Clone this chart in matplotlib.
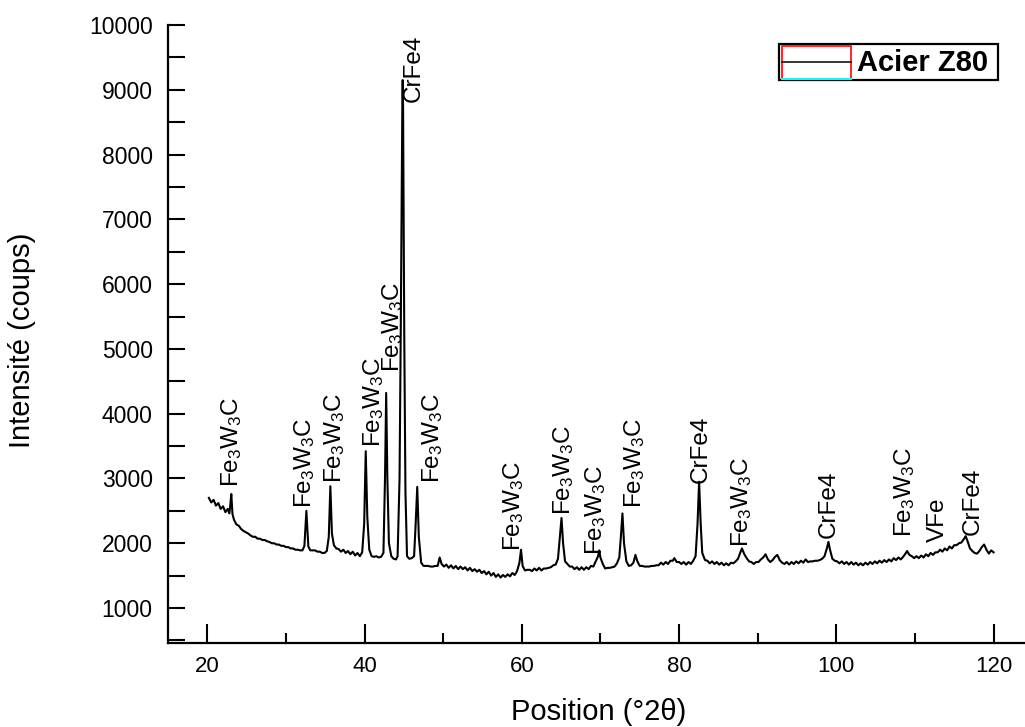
import matplotlib
matplotlib.use("Agg")
import matplotlib.pyplot as plt
from matplotlib.patches import Rectangle
from matplotlib.lines import Line2D
from matplotlib.ticker import MultipleLocator

plt.rcParams['font.family'] = ['Liberation Sans', 'DejaVu Sans']
plt.rcParams['mathtext.default'] = 'regular'

# Diffraction pattern of the Z80 steel: angle (°2θ) and intensity (counts)
two_theta = [
    20.2, 20.5, 20.8, 21.1, 21.4, 21.7, 22.0, 22.3, 22.6, 22.8,
    22.9, 23.05, 23.2, 23.4, 23.7, 24.0, 24.3, 24.6, 24.9, 25.2,
    25.5, 25.8, 26.1, 26.4, 26.7, 27.0, 27.3, 27.6, 27.9, 28.2,
    28.5, 28.8, 29.1, 29.4, 29.7, 30.0, 30.3, 30.6, 30.9, 31.2,
    31.5, 31.8, 32.1, 32.35, 32.6, 32.85, 33.1, 33.4, 33.7, 34.0,
    34.3, 34.6, 34.9, 35.2, 35.45, 35.65, 35.85, 36.1, 36.4, 36.7,
    37.0, 37.3, 37.6, 37.9, 38.2, 38.5, 38.8, 39.1, 39.4, 39.7,
    39.95, 40.15, 40.35, 40.6, 40.9, 41.2, 41.5, 41.8, 42.1, 42.4,
    42.6, 42.75, 42.9, 43.1, 43.4, 43.7, 44.0, 44.2, 44.45, 44.6,
    44.8, 44.85, 44.9, 45.05, 45.2, 45.4, 45.7, 46.0, 46.3, 46.5,
    46.7, 46.9, 47.2, 47.5, 47.8, 48.1, 48.4, 48.7, 49.0, 49.3,
    49.55, 49.8, 50.1, 50.4, 50.7, 51.0, 51.3, 51.6, 51.9, 52.2,
    52.5, 52.8, 53.1, 53.4, 53.7, 54.0, 54.3, 54.6, 54.9, 55.2,
    55.5, 55.8, 56.1, 56.4, 56.7, 57.0, 57.3, 57.6, 57.9, 58.2,
    58.5, 58.8, 59.1, 59.4, 59.7, 59.9, 60.1, 60.4, 60.7, 61.0,
    61.3, 61.6, 61.9, 62.2, 62.5, 62.8, 63.1, 63.4, 63.7, 64.0,
    64.3, 64.6, 64.85, 65.05, 65.25, 65.5, 65.8, 66.1, 66.4, 66.7,
    67.0, 67.3, 67.6, 67.9, 68.2, 68.5, 68.8, 69.1, 69.4, 69.7,
    69.85, 70.0, 70.3, 70.6, 70.9, 71.2, 71.5, 71.8, 72.1, 72.4,
    72.6, 72.8, 73.0, 73.3, 73.6, 73.9, 74.2, 74.45, 74.7, 75.0,
    75.3, 75.6, 75.9, 76.2, 76.5, 76.8, 77.1, 77.4, 77.7, 78.0,
    78.3, 78.6, 78.9, 79.2, 79.4, 79.7, 80.0, 80.3, 80.6, 80.9,
    81.2, 81.5, 81.8, 82.1, 82.35, 82.55, 82.75, 82.95, 83.3, 83.6,
    83.9, 84.2, 84.5, 84.8, 85.1, 85.4, 85.7, 86.0, 86.3, 86.6,
    86.9, 87.2, 87.5, 87.8, 88.0, 88.3, 88.6, 88.9, 89.2, 89.5,
    89.8, 90.1, 90.4, 90.7, 91.0, 91.3, 91.6, 91.9, 92.2, 92.5,
    92.8, 93.1, 93.4, 93.7, 94.0, 94.3, 94.6, 94.9, 95.2, 95.5,
    95.8, 96.1, 96.4, 96.7, 97.0, 97.3, 97.6, 97.9, 98.2, 98.5,
    98.8, 99.0, 99.2, 99.5, 99.8, 100.1, 100.4, 100.7, 101.0, 101.3,
    101.6, 101.9, 102.2, 102.5, 102.8, 103.1, 103.4, 103.7, 104.0, 104.3,
    104.6, 104.9, 105.2, 105.5, 105.8, 106.1, 106.4, 106.7, 107.0, 107.3,
    107.6, 107.9, 108.2, 108.5, 108.8, 109.0, 109.3, 109.6, 109.9, 110.2,
    110.5, 110.8, 111.1, 111.4, 111.7, 112.0, 112.3, 112.6, 112.9, 113.2,
    113.5, 113.8, 114.1, 114.4, 114.7, 115.0, 115.3, 115.6, 115.9, 116.2,
    116.45, 116.7, 117.0, 117.3, 117.6, 117.9, 118.2, 118.5, 118.8, 119.1,
    119.4, 119.7, 120.0,
]
counts = [
    2700, 2630, 2670, 2580, 2620, 2530, 2570, 2480, 2530, 2460,
    2560, 2760, 2450, 2360, 2290, 2270, 2220, 2190, 2170, 2150,
    2120, 2100, 2100, 2070, 2070, 2050, 2050, 2030, 2020, 2000,
    2000, 1980, 1980, 1960, 1960, 1940, 1940, 1920, 1920, 1900,
    1900, 1890, 1890, 1960, 2500, 1950, 1890, 1890, 1890, 1870,
    1870, 1850, 1850, 1880, 2100, 2880, 2150, 1970, 1920, 1910,
    1870, 1900, 1850, 1880, 1830, 1870, 1810, 1850, 1800, 1860,
    2300, 3420, 2400, 1900, 1800, 1790, 1800, 1780, 1790, 1850,
    3000, 4320, 3000, 2000, 1800, 1760, 1750, 1800, 3000, 5200,
    8700, 9150, 8700, 5200, 2800, 1800, 1760, 1770, 1800, 2300,
    2870, 2100, 1700, 1650, 1650, 1650, 1640, 1640, 1650, 1650,
    1780, 1680, 1640, 1670, 1620, 1660, 1610, 1650, 1600, 1640,
    1600, 1630, 1580, 1620, 1570, 1600, 1560, 1590, 1540, 1570,
    1520, 1560, 1500, 1540, 1480, 1520, 1470, 1510, 1480, 1520,
    1490, 1540, 1510, 1570, 1700, 1900, 1650, 1580, 1590, 1590,
    1570, 1610, 1580, 1620, 1580, 1610, 1610, 1620, 1630, 1660,
    1670, 1760, 2100, 2390, 2000, 1720, 1680, 1640, 1640, 1600,
    1630, 1590, 1630, 1590, 1630, 1600, 1650, 1640, 1720, 1800,
    1890, 1780, 1680, 1610, 1620, 1620, 1630, 1640, 1690, 1780,
    2100, 2460, 2000, 1720, 1650, 1660, 1700, 1820, 1720, 1650,
    1650, 1640, 1640, 1640, 1650, 1650, 1660, 1660, 1700, 1670,
    1710, 1680, 1730, 1730, 1770, 1710, 1710, 1680, 1710, 1670,
    1710, 1680, 1730, 1800, 2300, 2950, 2300, 1850, 1740, 1730,
    1690, 1720, 1680, 1710, 1670, 1700, 1660, 1690, 1660, 1700,
    1690, 1720, 1760, 1860, 1920, 1830, 1770, 1720, 1710, 1680,
    1710, 1710, 1750, 1780, 1830, 1750, 1710, 1740, 1790, 1820,
    1740, 1700, 1680, 1710, 1670, 1710, 1680, 1720, 1690, 1730,
    1700, 1750, 1710, 1720, 1720, 1730, 1730, 1740, 1760, 1800,
    1920, 2020, 1900, 1760, 1730, 1720, 1690, 1720, 1680, 1710,
    1670, 1710, 1670, 1700, 1660, 1690, 1660, 1700, 1670, 1710,
    1680, 1720, 1690, 1730, 1700, 1740, 1710, 1750, 1720, 1770,
    1740, 1780, 1750, 1790, 1840, 1880, 1820, 1800, 1770, 1800,
    1770, 1810, 1780, 1830, 1800, 1850, 1820, 1860, 1860, 1900,
    1870, 1920, 1890, 1950, 1920, 1970, 1970, 2000, 2010, 2060,
    2110, 2030, 1920, 1880, 1850, 1840, 1880, 1940, 1980, 1900,
    1840, 1890, 1860,
]
assert len(two_theta) == len(counts)

# Phase identification labels and where they are written
FW = 'Fe$_3$W$_3$C'
phase_labels = [FW, FW, FW, FW, FW, 'CrFe4', FW, FW, FW, FW, FW,
                'CrFe4', FW, 'CrFe4', FW, 'VFe', 'CrFe4']
label_x = [23.1, 32.4, 36.2, 41.1, 43.5, 46.3, 48.6, 59.0, 65.3, 69.4, 74.3,
           82.7, 88.0, 99.0, 108.7, 112.9, 117.3]
label_y = [2870, 2545, 2930, 3485, 4640, 8810, 2930, 1880, 2435, 1818, 2543,
           2930, 1940, 2080, 2096, 2018, 2127]

W, H = 1025, 727
fig = plt.figure(figsize=(W / 100, H / 100), dpi=100)
ax = fig.add_axes([168 / W, 1 - 643 / H, (1025 - 168) / W, (643 - 25) / H])

ax.plot(two_theta, counts, color='black', lw=1.5)

ax.set_xlim(15, 124)
ax.set_ylim(460, 10000)
for side in ('top', 'right'):
    ax.spines[side].set_visible(False)
for side in ('left', 'bottom'):
    ax.spines[side].set_linewidth(1.6)

ax.xaxis.set_major_locator(MultipleLocator(20))
ax.xaxis.set_minor_locator(MultipleLocator(10))
ax.yaxis.set_major_locator(MultipleLocator(1000))
ax.yaxis.set_minor_locator(MultipleLocator(500))
ax.tick_params(axis='x', which='major', direction='in', length=14, width=1.5,
               pad=9, labelsize=16)
ax.tick_params(axis='x', which='minor', direction='in', length=7, width=1.5)
ax.tick_params(axis='y', which='both', direction='in', length=12, width=1.5)
ax.tick_params(axis='y', which='major', pad=11, labelsize=16.5)

ax.set_xlabel('Position (°2θ)', fontsize=21)
ax.set_ylabel('Intensité (coups)', fontsize=21)
ax.xaxis.set_label_coords(0.502, -0.089)
ax.yaxis.set_label_coords(-0.154, 0.489)

for txt, lx, ly in zip(phase_labels, label_x, label_y):
    ax.text(lx, ly, txt, rotation=90, ha='center', va='bottom', fontsize=17.5)

# Legend box with the series key
def fpos(x, y):
    return x / W, 1 - y / H

fig.add_artist(Rectangle(fpos(779, 80), (998 - 779) / W, 36 / H,
                         transform=fig.transFigure, fill=False,
                         ec='black', lw=1.6))
fig.add_artist(Rectangle(fpos(782, 79), 69 / W, 33 / H,
                         transform=fig.transFigure, fill=False,
                         ec='red', lw=1.2))
fig.add_artist(Line2D([782 / W, 851 / W], [1 - 62 / H] * 2,
                      transform=fig.transFigure, color='black', lw=1.1))
fig.add_artist(Line2D([782 / W, 851 / W], [1 - 79 / H] * 2,
                      transform=fig.transFigure, color='cyan', lw=1.5))
fig.text(857 / W, 1 - 63 / H, 'Acier Z80', fontweight='bold', fontsize=21,
         ha='left', va='center')

fig.savefig('out.png', dpi=100)
